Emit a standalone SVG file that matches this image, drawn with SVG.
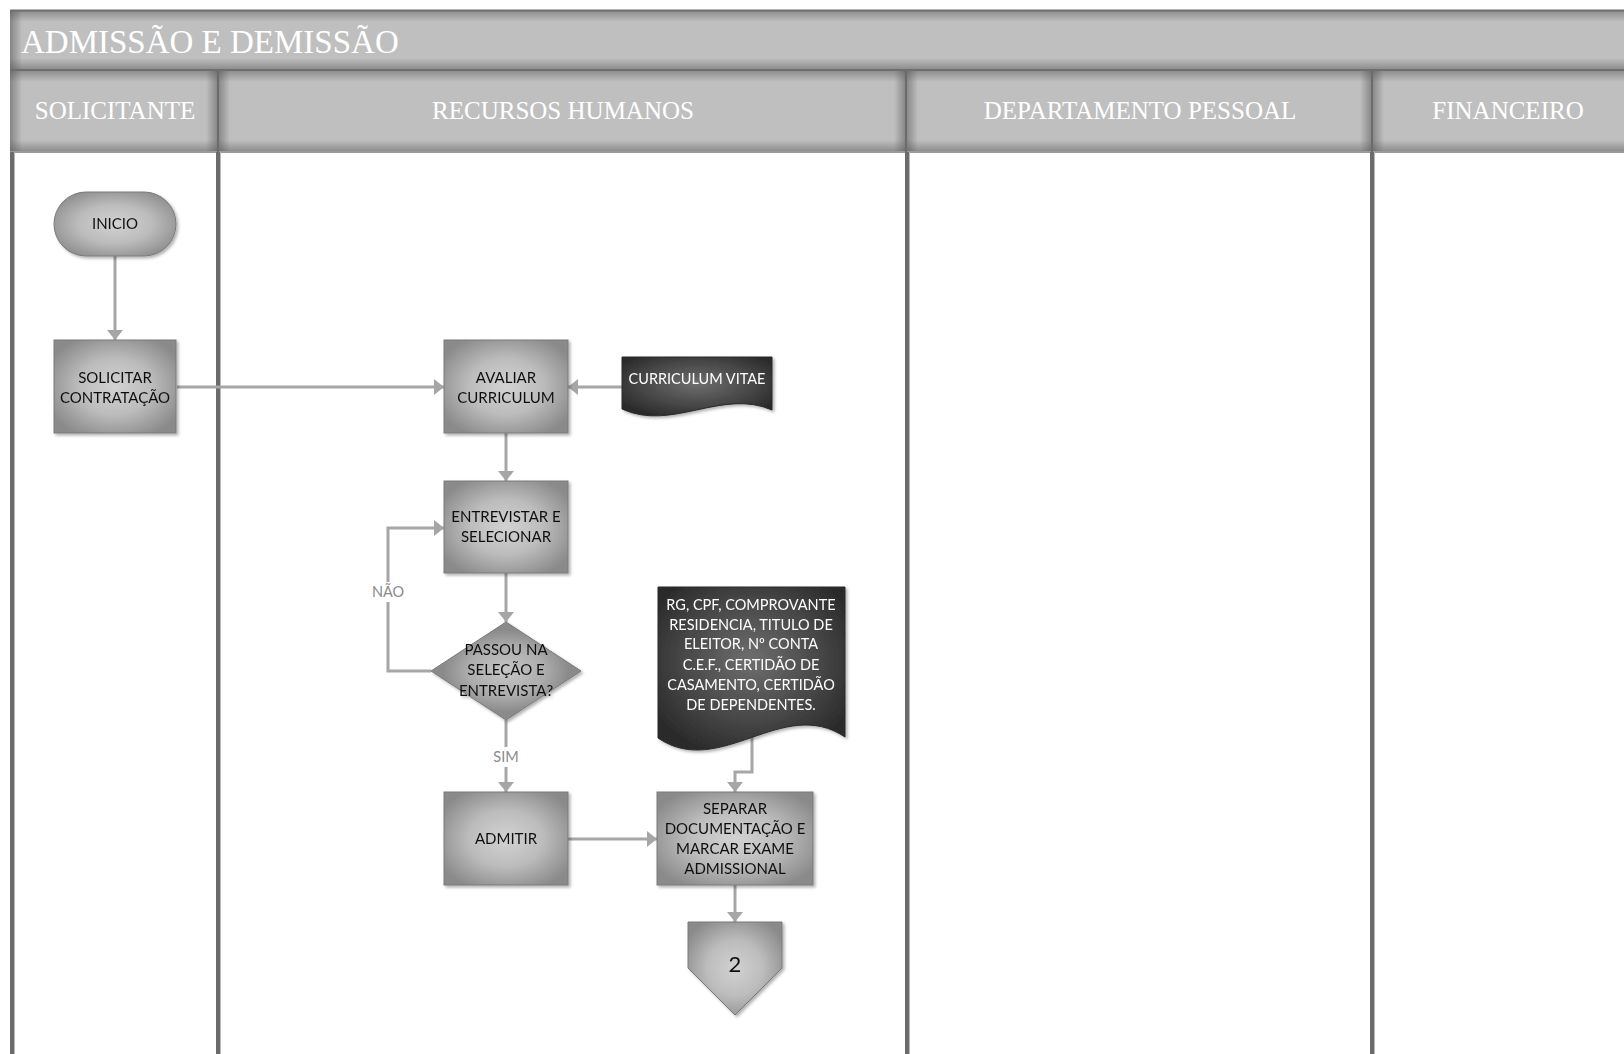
<svg xmlns="http://www.w3.org/2000/svg" width="1624" height="1054" viewBox="0 0 1624 1054">
  <defs>
    <style>
      .pool-title { font-family: "Liberation Serif", "Times New Roman", serif; font-size: 33px; fill: #ffffff; }
      .lane-title { font-family: "Liberation Serif", "Times New Roman", serif; font-size: 25px; fill: #ffffff; text-anchor: middle; }
      .band { fill: #bfbfbf; }
      .eL { fill: url(#edgeL); }
      .eR { fill: url(#edgeR); }
      .eT { fill: url(#edgeT); }
      .eB { fill: url(#edgeB); }
      .lane-line { stroke: #6b6b6b; stroke-width: 4; }
      .lane-edge { stroke: #b8b8b8; stroke-width: 1; }
      .box { fill: url(#gNode); stroke: #7a7a7a; stroke-width: 1; }
      .diamond { fill: url(#gDiamond); stroke: #7a7a7a; stroke-width: 1; }
      .doc { fill: url(#gDark); stroke: #2a2a2a; stroke-width: 1; }
      .t { font-family: Lato, "Open Sans", "Liberation Sans", sans-serif; font-size: 15px; fill: #111111; text-anchor: middle; }
      .tw { font-family: Lato, "Open Sans", "Liberation Sans", sans-serif; font-size: 14.5px; fill: #ffffff; text-anchor: middle; }
      .conn { fill: none; stroke: #a6a6a6; stroke-width: 3; marker-end: url(#arrow); }
      .lbl { font-family: Lato, "Open Sans", "Liberation Sans", sans-serif; font-size: 14.5px; fill: #8a8a8a; text-anchor: middle; }
    </style>
    <!-- shading strips that darken the edges of the pool bands -->
    <linearGradient id="edgeL" x1="0" y1="0" x2="1" y2="0">
      <stop offset="0" stop-color="#555555" stop-opacity="0.55"/>
      <stop offset="1" stop-color="#555555" stop-opacity="0"/>
    </linearGradient>
    <linearGradient id="edgeR" x1="1" y1="0" x2="0" y2="0">
      <stop offset="0" stop-color="#555555" stop-opacity="0.55"/>
      <stop offset="1" stop-color="#555555" stop-opacity="0"/>
    </linearGradient>
    <linearGradient id="edgeT" x1="0" y1="0" x2="0" y2="1">
      <stop offset="0" stop-color="#555555" stop-opacity="0.5"/>
      <stop offset="1" stop-color="#555555" stop-opacity="0"/>
    </linearGradient>
    <linearGradient id="edgeB" x1="0" y1="1" x2="0" y2="0">
      <stop offset="0" stop-color="#555555" stop-opacity="0.5"/>
      <stop offset="1" stop-color="#555555" stop-opacity="0"/>
    </linearGradient>
    <filter id="shadow" x="-10%" y="-10%" width="125%" height="125%">
      <feDropShadow dx="2" dy="2" stdDeviation="1.5" flood-color="#000" flood-opacity="0.3"/>
    </filter>
    <radialGradient id="gNode" cx="0.5" cy="0.5" r="0.6">
      <stop offset="0" stop-color="#d2d2d2"/>
      <stop offset="0.5" stop-color="#bcbcbc"/>
      <stop offset="1" stop-color="#8a8a8a"/>
    </radialGradient>
    <radialGradient id="gDiamond" cx="0.5" cy="0.5" r="0.42">
      <stop offset="0" stop-color="#c6c6c6"/>
      <stop offset="0.6" stop-color="#adadad"/>
      <stop offset="1" stop-color="#8a8a8a"/>
    </radialGradient>
    <radialGradient id="gDark" cx="0.5" cy="0.45" r="0.6">
      <stop offset="0" stop-color="#6e6e6e"/>
      <stop offset="0.6" stop-color="#484848"/>
      <stop offset="1" stop-color="#2c2c2c"/>
    </radialGradient>
    <marker id="arrow" viewBox="0 0 10 16" refX="10" refY="8" markerWidth="10" markerHeight="16" markerUnits="userSpaceOnUse" orient="auto">
      <path d="M0,0 L10,8 L0,16 Z" fill="#a6a6a6"/>
    </marker>
  </defs>

  <rect width="1624" height="1054" fill="#ffffff"/>

  <!-- Pool: title band, lane headers and lane dividers -->
  <g id="pool">
    <!-- title band -->
    <rect class="band" x="10" y="10" width="1614" height="60"/>
    <rect class="eL" x="10" y="10" width="12" height="60"/>
    <rect class="eT" x="10" y="10" width="1614" height="12"/>
    <rect class="eB" x="10" y="58" width="1614" height="12"/>

    <!-- lane header cells -->
    <rect class="band" x="10" y="70" width="208" height="82"/>
    <rect class="eL" x="10" y="70" width="12" height="82"/>
    <rect class="eR" x="206" y="70" width="12" height="82"/>
    <rect class="eT" x="10" y="70" width="208" height="12"/>
    <rect class="eB" x="10" y="140" width="208" height="12"/>

    <rect class="band" x="218" y="70" width="688" height="82"/>
    <rect class="eL" x="218" y="70" width="12" height="82"/>
    <rect class="eR" x="894" y="70" width="12" height="82"/>
    <rect class="eT" x="218" y="70" width="688" height="12"/>
    <rect class="eB" x="218" y="140" width="688" height="12"/>

    <rect class="band" x="906" y="70" width="466" height="82"/>
    <rect class="eL" x="906" y="70" width="12" height="82"/>
    <rect class="eR" x="1360" y="70" width="12" height="82"/>
    <rect class="eT" x="906" y="70" width="466" height="12"/>
    <rect class="eB" x="906" y="140" width="466" height="12"/>

    <rect class="band" x="1372" y="70" width="252" height="82"/>
    <rect class="eL" x="1372" y="70" width="12" height="82"/>
    <rect class="eT" x="1372" y="70" width="252" height="12"/>
    <rect class="eB" x="1372" y="140" width="252" height="12"/>

    <line x1="10" y1="10.5" x2="1624" y2="10.5" stroke="#6e6e6e" stroke-width="2"/>
    <line x1="10" y1="70" x2="1624" y2="70" stroke="#6e6e6e" stroke-width="2"/>
    <line x1="10" y1="152" x2="1624" y2="152" stroke="#9a9a9a" stroke-width="2"/>
    <line x1="218" y1="70" x2="218" y2="152" stroke="#6b6b6b" stroke-width="2"/>
    <line x1="906" y1="70" x2="906" y2="152" stroke="#6b6b6b" stroke-width="2"/>
    <line x1="1372" y1="70" x2="1372" y2="152" stroke="#6b6b6b" stroke-width="2"/>

    <text class="pool-title" x="21" y="53">ADMISSÃO E DEMISSÃO</text>
    <text class="lane-title" x="115" y="119">SOLICITANTE</text>
    <text class="lane-title" x="563" y="119">RECURSOS HUMANOS</text>
    <text class="lane-title" x="1140" y="119">DEPARTAMENTO PESSOAL</text>
    <text class="lane-title" x="1508" y="119">FINANCEIRO</text>

    <line class="lane-line" x1="12" y1="152" x2="12" y2="1054"/>
    <line class="lane-edge" x1="14.5" y1="152" x2="14.5" y2="1054"/>
    <line class="lane-line" x1="218" y1="152" x2="218" y2="1054"/>
    <line class="lane-edge" x1="220.5" y1="152" x2="220.5" y2="1054"/>
    <line class="lane-line" x1="907" y1="152" x2="907" y2="1054"/>
    <line class="lane-edge" x1="909.5" y1="152" x2="909.5" y2="1054"/>
    <line class="lane-line" x1="1372" y1="152" x2="1372" y2="1054"/>
    <line class="lane-edge" x1="1374.5" y1="152" x2="1374.5" y2="1054"/>
  </g>

  <!-- Flow connectors -->
  <g id="connectors">
    <path class="conn" d="M115,256 V340"/>
    <path class="conn" d="M177,387 H444"/>
    <path class="conn" d="M622,387 H568"/>
    <path class="conn" d="M506,433 V481"/>
    <path class="conn" d="M506,573 V622"/>
    <path class="conn" d="M431,671 H388 V528 H444"/>
    <path class="conn" d="M506,720 V792"/>
    <path class="conn" d="M568,839 H657"/>
    <path class="conn" d="M752,730 V772 H735 V792"/>
    <path class="conn" d="M735,885 V922"/>
    <rect x="370" y="582" width="36" height="20" fill="#ffffff"/>
    <text class="lbl" x="388" y="597">NÃO</text>
    <rect x="490" y="747" width="32" height="20" fill="#ffffff"/>
    <text class="lbl" x="506" y="762">SIM</text>
  </g>

  <g id="node-inicio" filter="url(#shadow)">
    <rect class="box" x="54" y="192" width="122" height="64" rx="32" ry="32"/>
    <text class="t" x="115" y="229">INICIO</text>
  </g>

  <g id="node-solicitar" filter="url(#shadow)">
    <rect class="box" x="54" y="340" width="122" height="93"/>
    <text class="t" x="115" y="383">SOLICITAR</text>
    <text class="t" x="115" y="403">CONTRATAÇÃO</text>
  </g>

  <g id="node-avaliar" filter="url(#shadow)">
    <rect class="box" x="444" y="340" width="124" height="93"/>
    <text class="t" x="506" y="383">AVALIAR</text>
    <text class="t" x="506" y="403">CURRICULUM</text>
  </g>

  <g id="node-curriculum" filter="url(#shadow)">
    <path class="doc" d="M622,357 H772 V410 C722,388 672,432 622,409 Z"/>
    <text class="tw" x="697" y="384">CURRICULUM VITAE</text>
  </g>

  <g id="node-entrevistar" filter="url(#shadow)">
    <rect class="box" x="444" y="481" width="124" height="92"/>
    <text class="t" x="506" y="522">ENTREVISTAR E</text>
    <text class="t" x="506" y="542">SELECIONAR</text>
  </g>

  <g id="node-passou" filter="url(#shadow)">
    <path class="diamond" d="M506,622 L581,671 L506,720 L431,671 Z"/>
    <text class="t" x="506" y="655">PASSOU NA</text>
    <text class="t" x="506" y="675">SELEÇÃO E</text>
    <text class="t" x="506" y="696">ENTREVISTA?</text>
  </g>

  <g id="node-documentos" filter="url(#shadow)">
    <path class="doc" d="M658,587 H845 V737 C783,695 720,780 658,738 Z"/>
    <text class="tw" x="751" y="610">RG, CPF, COMPROVANTE</text>
    <text class="tw" x="751" y="630">RESIDENCIA, TITULO DE</text>
    <text class="tw" x="751" y="649">ELEITOR, Nº CONTA</text>
    <text class="tw" x="751" y="670">C.E.F., CERTIDÃO DE</text>
    <text class="tw" x="751" y="690">CASAMENTO, CERTIDÃO</text>
    <text class="tw" x="751" y="710">DE DEPENDENTES.</text>
  </g>

  <g id="node-admitir" filter="url(#shadow)">
    <rect class="box" x="444" y="792" width="124" height="93"/>
    <text class="t" x="506" y="844">ADMITIR</text>
  </g>

  <g id="node-separar" filter="url(#shadow)">
    <rect class="box" x="657" y="792" width="156" height="93"/>
    <text class="t" x="735" y="814">SEPARAR</text>
    <text class="t" x="735" y="834">DOCUMENTAÇÃO E</text>
    <text class="t" x="735" y="854">MARCAR EXAME</text>
    <text class="t" x="735" y="874">ADMISSIONAL</text>
  </g>

  <g id="node-pagina2" filter="url(#shadow)">
    <path class="box" d="M688,922 H782 V968 L735,1015 L688,968 Z"/>
    <text class="t" x="735" y="972" style="font-size:22px">2</text>
  </g>
</svg>
